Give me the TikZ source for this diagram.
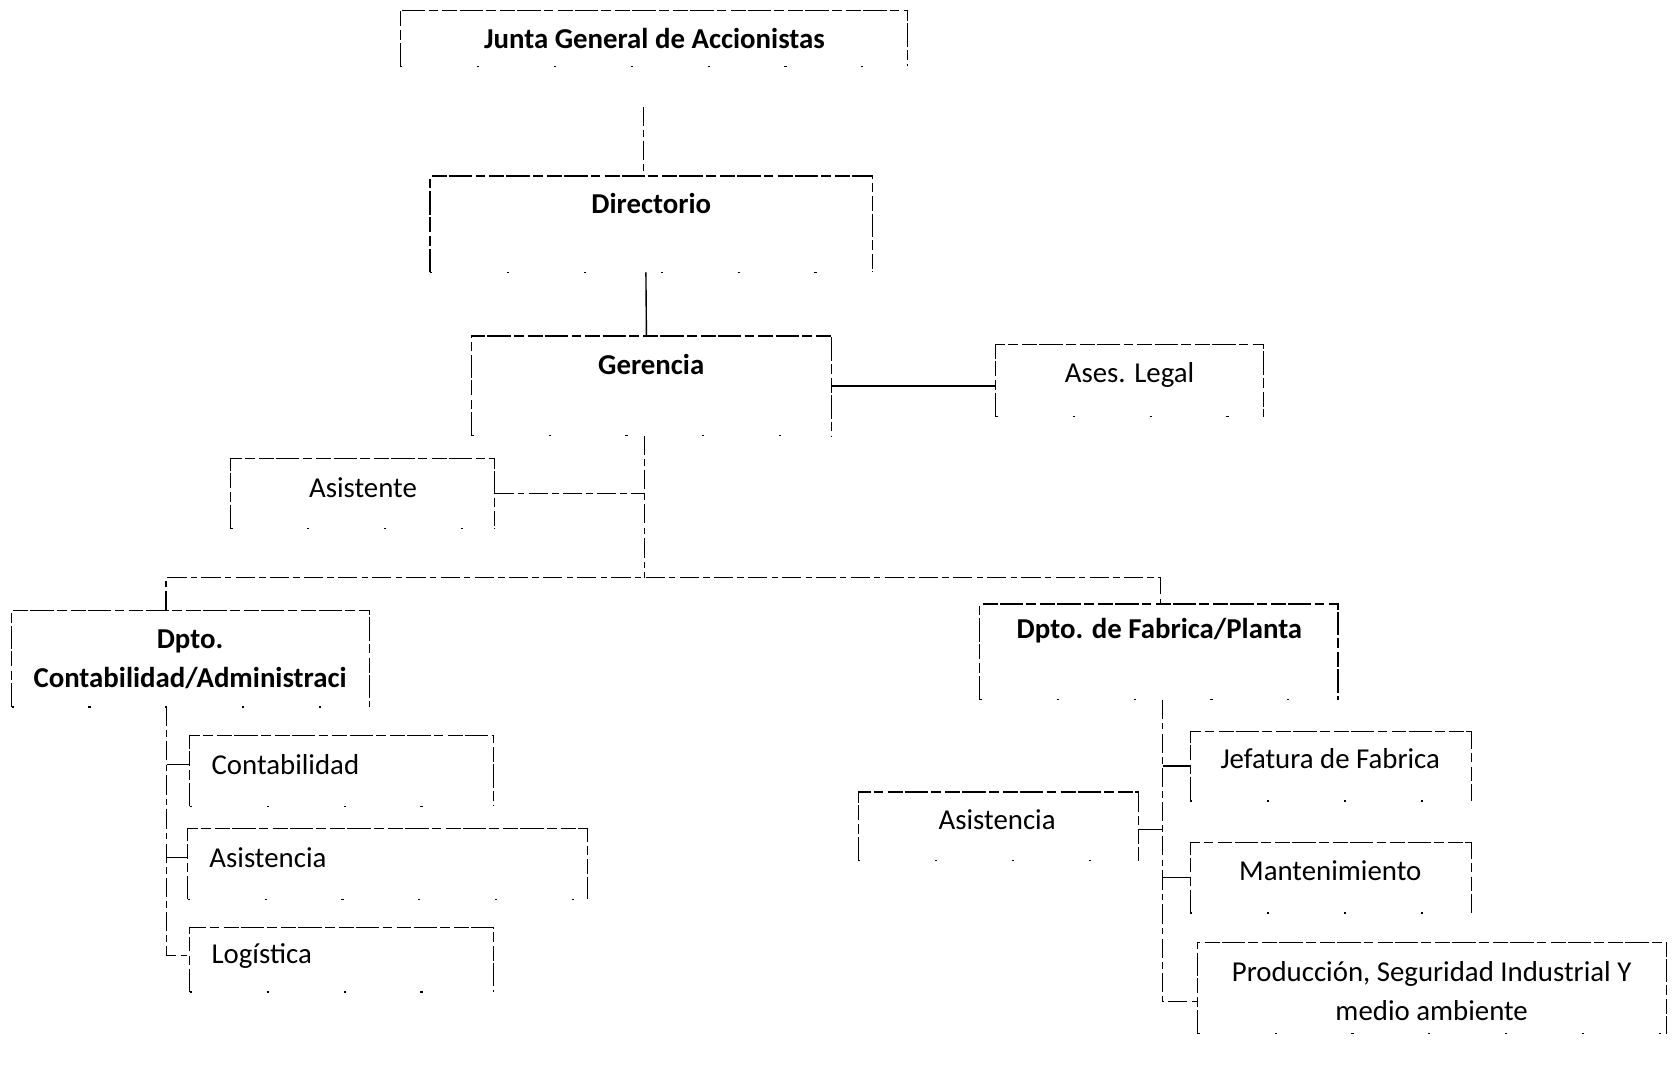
\documentclass[tikz,border=0pt]{standalone}
\usepackage{fontspec}
\setmainfont{Carlito}
\newcommand\orgbox[1]{%
  \draw[boxline] (#1.south west) -- (#1.north west) -- (#1.north east) -- (#1.south east);
  \draw[boxfoot] (#1.south west) -- (#1.south east);}
\begin{document}
\begin{tikzpicture}[x=1pt,y=-1pt,
  box/.style={draw=none, inner sep=0pt, minimum width=#1},
  boxline/.style={line width=1.1pt, dash pattern=on 22pt off 3pt on 9pt off 4pt on 14pt off 2pt},
  boxfoot/.style={line width=1.1pt, dash pattern=on 2pt off 70pt},
  conn/.style={line width=1.1pt, dash pattern=on 18pt off 4pt on 6pt off 4pt},
  solidconn/.style={line width=1.3pt},
  txt/.style={inner sep=0pt, font=\fontsize{27}{37}\selectfont, align=center},
  btxt/.style={txt, font=\fontsize{27}{37}\selectfont\bfseries},
  ltxt/.style={txt, anchor=west}]
\useasboundingbox (0,0) rectangle (1568,1001);
% boxes
\node[box=475pt, minimum height=52pt] (junta) at (612.5,36) {};
\node[box=414pt, minimum height=90pt] (dir) at (610,210) {};
\node[box=337pt, minimum height=93pt] (ger) at (610.5,361.5) {};
\node[box=250pt, minimum height=67pt] (ases) at (1058,356.5) {};
\node[box=247pt, minimum height=65pt] (asis) at (339.5,462.5) {};
\node[box=335pt, minimum height=90pt] (dcont) at (178.5,617) {};
\node[box=335pt, minimum height=89pt] (dfab) at (1085.5,610.5) {};
\node[box=284pt, minimum height=66pt] (cont) at (320,722) {};
\node[box=374pt, minimum height=66pt] (asis2) at (363,809) {};
\node[box=284pt, minimum height=60pt] (logi) at (320,899) {};
\node[box=263pt, minimum height=65pt] (jef) at (1246.5,717.5) {};
\node[box=262pt, minimum height=64pt] (asis3) at (935,774) {};
\node[box=263pt, minimum height=66pt] (mant) at (1246.5,822) {};
\node[box=439pt, minimum height=85pt] (prod) at (1341.5,925.5) {};
\foreach \b in {junta,dir,ger,ases,asis,dcont,dfab,cont,asis2,logi,jef,asis3,mant,prod}{\orgbox{\b}}
% texts
\node[btxt] (junta-t) at (613,36) {Junta General de Accionistas};
\node[btxt] (dir-t) at (610,191) {Directorio};
\node[btxt] (ger-t) at (610,341) {Gerencia};
\node[txt] (ases-t) at (1058,351) {Ases. Legal};
\node[txt] (asis-t) at (340,457) {Asistente};
\node[btxt] (dcont-t) at (178,617.5) {Dpto.\\Contabilidad/Administraci};
\node[btxt] (dfab-t) at (1086,591) {Dpto. de Fabrica/Planta};
\node[ltxt] (cont-t) at (198,716) {Contabilidad};
\node[ltxt] (asis2-t) at (196,803) {Asistencia};
\node[ltxt] (logi-t) at (198,895) {Logística};
\node[txt] (jef-t) at (1246,711) {Jefatura de Fabrica};
\node[txt] (asis3-t) at (934,768) {Asistencia};
\node[txt] (mant-t) at (1246,816) {Mantenimiento};
\node[txt] (prod-t) at (1341,928.5) {Producción, Seguridad Industrial Y\\medio ambiente};
% connectors
\coordinate (jtop) at (603,100);
\coordinate (busc) at (604,541);
\coordinate (lt) at (156,895);
\coordinate (rt) at (1089,938);
\draw[conn] (jtop) -- (jtop |- dir.north);
\draw[solidconn] ([xshift=-5pt]dir.south) -- ([xshift=-5pt]ger.north);
\draw[solidconn] (ger.east) -- (ger.east -| ases.west);
\draw[conn] (ger.south -| busc) -- (busc);
\draw[conn] (asis.east) -- (asis.east -| busc);
\draw[conn] ([xshift=-23pt]dcont.north) |- (busc) -| ([xshift=1.5pt]dfab.north);
\draw[conn] (dcont.south -| lt) -- (lt) -- (lt -| logi.west);
\draw[solidconn] ([yshift=6pt]cont.west -| lt) -- ([yshift=6pt]cont.west);
\draw[solidconn] ([yshift=6pt]asis2.west -| lt) -- ([yshift=6pt]asis2.west);
\draw[conn] (dfab.south -| rt) -- (rt) -- (rt -| prod.west);
\draw[solidconn] (jef.west -| rt) -- (jef.west);
\draw[solidconn] ([yshift=-3pt]asis3.east) -- ([yshift=-3pt]asis3.east -| rt);
\draw[solidconn] (mant.west -| rt) -- (mant.west);
\end{tikzpicture}
\end{document}
